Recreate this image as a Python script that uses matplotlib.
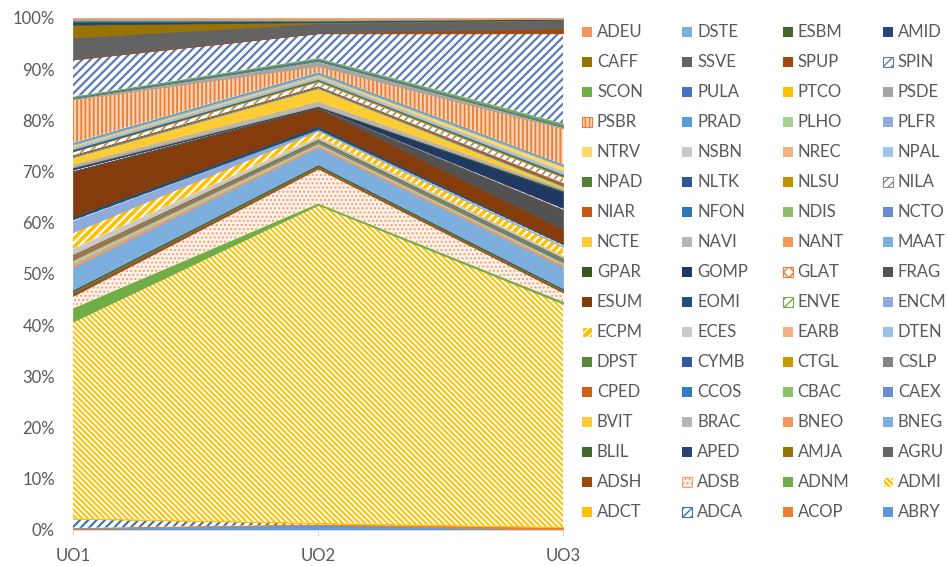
import matplotlib
import numpy as np

matplotlib.use("Agg")
import matplotlib.pyplot as plt
from matplotlib.patches import Rectangle

plt.rcParams["font.family"] = ["Lato", "DejaVu Sans"]

categories = ["UO1", "UO2", "UO3"]

# stacking order, bottom first
series = [
    "ABRY", "ACOP", "ADCA", "ADCT", "ADMI", "ADNM", "ADSB", "ADSH", "AGRU", "AMJA",
    "APED", "BLIL", "BNEG", "BNEO", "BRAC", "BVIT", "CAEX", "CBAC", "CCOS", "CPED",
    "CSLP", "CTGL", "CYMB", "DPST", "DTEN", "EARB", "ECES", "ECPM", "ENCM", "ENVE",
    "EOMI", "ESUM", "FRAG", "GLAT", "GOMP", "GPAR", "MAAT", "NANT", "NAVI", "NCTE",
    "NCTO", "NDIS", "NFON", "NIAR", "NILA", "NLSU", "NLTK", "NPAD", "NPAL", "NREC",
    "NSBN", "NTRV", "PLFR", "PLHO", "PRAD", "PSBR", "PSDE", "PTCO", "PULA", "SCON",
    "SPIN", "SPUP", "SSVE", "CAFF", "AMID", "ESBM", "DSTE", "ADEU",
]

uo1 = [
    0.3, 0.1, 1.8, 0.1, 38.3, 2.6, 2.4, 0.4, 0.3, 0.3,
    0.1, 0.1, 4.4, 0.4, 0.6, 0.3, 0.2, 0.1, 0.1, 0.4,
    0.1, 0.1, 0.1, 0.1, 0.1, 0.2, 0.8, 3.2, 2.2, 0.3,
    0.5, 8.8, 0.1, 0.3, 0.3, 0.1, 0.2, 0.2, 0.3, 1.3,
    0.1, 0.1, 0.1, 0.1, 0.7, 0.1, 0.3, 0.1, 0.4, 0.1,
    0.1, 0.2, 0.1, 0.1, 0.2, 8.4, 0.1, 0.1, 0.3, 0.1,
    7.2, 0.2, 4.1, 2.5, 0.5, 0.3, 0.3, 0.2,
]
uo2 = [
    1.0, 0.1, 0.2, 0.1, 62.1, 0.3, 6.8, 0.2, 0.1, 0.3,
    0.1, 0.1, 3.4, 0.3, 0.2, 0.2, 0.2, 0.1, 0.1, 0.1,
    0.1, 0.1, 0.1, 0.1, 0.1, 0.1, 0.2, 1.2, 0.2, 0.1,
    0.6, 3.5, 0.1, 0.1, 0.1, 0.1, 0.1, 0.1, 0.8, 2.5,
    0.1, 0.1, 0.1, 0.1, 0.9, 0.3, 0.1, 0.1, 0.4, 0.1,
    0.1, 0.2, 0.2, 0.1, 0.2, 1.2, 0.9, 0.1, 0.4, 0.2,
    4.8, 0.1, 1.9, 0.2, 0.2, 0.1, 0.2, 0.3,
]
uo3 = [
    0.05, 0.45, 0.05, 0.05, 43.6, 0.4, 1.8, 0.2, 0.2, 0.2,
    0.1, 0.1, 4.2, 0.4, 0.2, 0.2, 0.1, 0.1, 0.3, 0.1,
    0.1, 0.1, 0.1, 0.1, 0.1, 0.1, 0.1, 1.8, 0.2, 0.3,
    0.2, 2.8, 3.8, 0.3, 3.1, 0.3, 0.2, 0.1, 0.2, 0.3,
    0.1, 0.1, 0.1, 0.4, 1.1, 0.3, 0.2, 0.1, 0.5, 0.1,
    0.1, 0.8, 0.1, 0.1, 0.2, 7.0, 0.2, 0.1, 0.3, 0.4,
    17.6, 1.0, 1.6, 0.1, 0.1, 0.05, 0.05, 0.1,
]

colors = {
    "ABRY": "#5B9BD5", "ACOP": "#ED7D31", "ADCA": "#2E75B6", "ADCT": "#FFC000",
    "ADMI": "#FFC000", "ADNM": "#70AD47", "ADSB": "#F4B183", "ADSH": "#9E480E",
    "AGRU": "#636363", "AMJA": "#997300", "APED": "#264478", "BLIL": "#43682B",
    "BNEG": "#7CAFDD", "BNEO": "#F1975A", "BRAC": "#B7B7B7", "BVIT": "#FFCD33",
    "CAEX": "#698ED0", "CBAC": "#8CC168", "CCOS": "#327DC2", "CPED": "#D26012",
    "CSLP": "#848484", "CTGL": "#CC9A00", "CYMB": "#335AA1", "DPST": "#5A8A39",
    "DTEN": "#9DC3E6", "EARB": "#F4B183", "ECES": "#C9C9C9", "ECPM": "#FFC000",
    "ENCM": "#8FAADC", "ENVE": "#70AD47", "EOMI": "#1F4E79", "ESUM": "#843C0C",
    "FRAG": "#525252", "GLAT": "#ED7D31", "GOMP": "#203864", "GPAR": "#385723",
    "MAAT": "#7CAFDD", "NANT": "#F1975A", "NAVI": "#B7B7B7", "NCTE": "#FFCD33",
    "NCTO": "#698ED0", "NDIS": "#8CC168", "NFON": "#2E75B6", "NIAR": "#C55A11",
    "NILA": "#7F7F7F", "NLSU": "#BF9000", "NLTK": "#2F5597", "NPAD": "#548235",
    "NPAL": "#9DC3E6", "NREC": "#F4B183", "NSBN": "#C9C9C9", "NTRV": "#FFD966",
    "PLFR": "#8FAADC", "PLHO": "#A9D18E", "PRAD": "#5B9BD5", "PSBR": "#ED7D31",
    "PSDE": "#A5A5A5", "PTCO": "#FFC000", "PULA": "#4472C4", "SCON": "#70AD47",
    "SPIN": "#5B7BB5", "SPUP": "#9E480E", "SSVE": "#636363", "CAFF": "#997300",
    "AMID": "#264478", "ESBM": "#43682B", "DSTE": "#7CAFDD", "ADEU": "#F1975A",
}

# patterned fills: (face, hatch colour, hatch, hatch linewidth)
patterns = {
    "ADCA": ("white", "#2E75B6", "////", 1.5),
    "ADMI": ("#FFC000", "white", "\\" * 6, 1.4),
    "ADSB": ("#FEF2EA", "#EFA070", "....", 1.0),
    "ECPM": ("#FFC000", "white", "////", 1.6),
    "ENVE": ("white", "#70AD47", "////", 1.2),
    "GLAT": ("white", "#ED7D31", "xxx", 1.0),
    "NILA": ("white", "#8C8C8C", "////", 1.2),
    "PSBR": ("#F9D3B8", "#ED7D31", "||||", 1.3),
    "SPIN": ("white", "#5B7BB5", "////", 1.6),
}


def fill_style(name):
    if name in patterns:
        face, edge, hatch, _ = patterns[name]
        return dict(facecolor=face, edgecolor=edge, hatch=hatch, linewidth=0)
    return dict(facecolor=colors[name], edgecolor=colors[name], linewidth=0.5)


def hatch_width(name):
    return patterns[name][3] if name in patterns else 1.0


values = np.array([uo1, uo2, uo3]).T
shares = values / values.sum(axis=0) * 100
tops = np.cumsum(shares, axis=0)
bottoms = tops - shares

W, H = 948, 566
fig = plt.figure(figsize=(W / 100, H / 100), dpi=100)
ax = fig.add_axes([73 / W, 36 / H, 490 / W, 512 / H])

x = np.arange(len(categories))
for i, name in enumerate(series):
    with plt.rc_context({"hatch.linewidth": hatch_width(name)}):
        ax.fill_between(x, bottoms[i], tops[i], **fill_style(name))

ax.set_xlim(0, len(categories) - 1)
ax.set_ylim(0, 100)
ax.set_xticks(x)
ax.set_xticklabels(categories)
ax.set_yticks(np.arange(0, 101, 10))
ax.set_yticklabels([f"{v}%" for v in range(0, 101, 10)])
for side in ("left", "top", "right"):
    ax.spines[side].set_visible(False)
ax.spines["bottom"].set_color("#D9D9D9")
ax.tick_params(axis="y", length=0, pad=13, labelsize=12, labelcolor="#595959")
ax.tick_params(axis="x", length=4, color="#D9D9D9", pad=9, labelsize=12, labelcolor="#595959")

# legend: 4 columns, read row by row from the top series down
legend_names = series[::-1]
for k, name in enumerate(legend_names):
    row, col = divmod(k, 4)
    px = 582 + col * 100.3
    py = 32 + row * 30.03
    style = fill_style(name)
    style["linewidth"] = 0.8 if name in patterns else 0
    with plt.rc_context({"hatch.linewidth": min(hatch_width(name), 1.0)}):
        fig.add_artist(Rectangle((px / W, 1 - (py + 5) / H), 10 / W, 10 / H,
                                 transform=fig.transFigure, **style))
    fig.text((px + 15) / W, 1 - py / H, name, ha="left", va="center",
             fontsize=12, color="#595959")

fig.savefig("out.png", dpi=100)
